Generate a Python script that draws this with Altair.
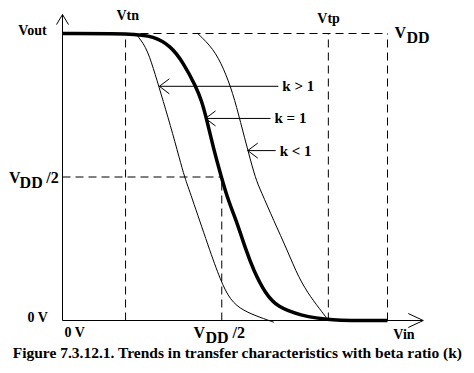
import altair as alt
import pandas as pd

# ---------------- data (volts) ----------------
VTN = 0.97      # nMOS threshold
VMID = 2.45     # VDD/2 marker on the Vin axis
VTP = 4.09      # pMOS threshold point
VDD = 5.0
VOUT_MID = 2.5
Y_AXIS_TOP = 5.33
X_AXIS_END = 5.55

# k = 1 (thick)
VIN_K_EQ1 = [0.0, 1.09, 1.40, 1.66, 1.86, 2.05, 2.14, 2.215, 2.32, 2.446, 2.55, 2.69, 2.815, 2.94, 3.12, 3.31, 3.66, 4.08, 5.0]
VOUT_K_EQ1 = [5.0, 5.0, 4.95, 4.79, 4.49, 4.08, 3.83, 3.52, 3.01, 2.49, 2.09, 1.69, 1.25, 0.87, 0.47, 0.23, 0.09, 0.0, 0.0]
# k > 1 (left)
VIN_K_GT1 = [1.12, 1.28, 1.40, 1.51, 1.66, 1.80, 1.88, 1.97, 2.25, 2.43, 2.58, 2.78, 3.05, 3.25]
VOUT_K_GT1 = [5.0, 4.79, 4.39, 3.97, 3.40, 2.82, 2.49, 2.21, 1.27, 0.70, 0.35, 0.17, 0.05, -0.03]
# k < 1 (right)
VIN_K_LT1 = [2.08, 2.32, 2.48, 2.62, 2.74, 2.86, 2.97, 3.05, 3.25, 3.46, 3.63, 3.82, 4.00, 4.09]
VOUT_K_LT1 = [5.0, 4.74, 4.39, 3.97, 3.45, 2.93, 2.47, 2.26, 1.74, 1.22, 0.75, 0.40, 0.14, 0.0]

# pointer arrows to the curves
ARROW_LABELS = ["k > 1", "k = 1", "k < 1"]
ARROW_TIP_VIN = [1.49, 2.20, 2.85]
ARROW_TAIL_VIN = [3.32, 3.20, 3.28]
ARROW_VOUT = [4.08, 3.52, 2.96]

# plain labels (14 px)
SMALL_TEXT = ["Vout", "Vtn", "Vtp", "0 V", "0 V", "Vin"]
SMALL_VIN = [-0.68, 0.83, 3.92, -0.54, 0.03, 5.09]
SMALL_VOUT = [5.05, 5.30, 5.26, 0.035, -0.226, -0.244]

# V_DD labels (16 px)
BIG_TEXT = ["V", "DD", "V", "DD", "/2", "V", "DD", "/2"]
BIG_VIN = [5.108, 5.292, -0.825, -0.66, -0.25, 2.015, 2.20, 2.615]
BIG_VOUT = [5.017, 4.93, 2.474, 2.387, 2.491, -0.215, -0.30, -0.215]

CAPTION = "Figure 7.3.12.1. Trends in transfer characteristics with beta ratio (k)"
CAPTION_VIN = 2.69
CAPTION_VOUT = -0.57

# ---------------- layout ----------------
W, H = 456, 354
PX_X, PX_Y = 65.0, 57.4          # pixels per volt
OX, OY = 54.5, 312.5             # where (0 V, 0 V) sits in the plot area
xs = alt.Scale(domain=[-OX / PX_X, (W - OX) / PX_X], nice=False, zero=False)
ys = alt.Scale(domain=[-(H - OY) / PX_Y, OY / PX_Y], nice=False, zero=False)
FONT = "Liberation Serif"

def X(f="x"):
    return alt.X(f"{f}:Q", scale=xs, axis=None)

def Y(f="y"):
    return alt.Y(f"{f}:Q", scale=ys, axis=None)

curves = pd.concat([
    pd.DataFrame({"x": VIN_K_EQ1, "y": VOUT_K_EQ1, "k": "eq", "o": range(len(VIN_K_EQ1))}),
    pd.DataFrame({"x": VIN_K_GT1, "y": VOUT_K_GT1, "k": "gt", "o": range(len(VIN_K_GT1))}),
    pd.DataFrame({"x": VIN_K_LT1, "y": VOUT_K_LT1, "k": "lt", "o": range(len(VIN_K_LT1))}),
])

guides = pd.DataFrame({
    "x": [0.0, 0.0, VTN, VMID, VTP, VDD],
    "x2": [VDD, VMID, VTN, VMID, VTP, VDD],
    "y": [VDD, VOUT_MID, 0.0, 0.0, 0.0, 0.0],
    "y2": [VDD, VOUT_MID, VDD, VOUT_MID, VDD, VDD],
})

seg = []
# axes
seg.append((0.0, 0.0, 0.0, Y_AXIS_TOP))
seg.append((0.0, 0.0, X_AXIS_END, 0.0))
# axis arrowheads
ax_dx, ax_dy = 6 / PX_X, 10 / PX_Y
seg.append((0.0, Y_AXIS_TOP, -ax_dx, Y_AXIS_TOP - ax_dy))
seg.append((0.0, Y_AXIS_TOP, ax_dx, Y_AXIS_TOP - ax_dy))
bx_dx, bx_dy = 15 / PX_X, 7 / PX_Y
seg.append((X_AXIS_END, 0.0, X_AXIS_END - bx_dx, bx_dy))
seg.append((X_AXIS_END, 0.0, X_AXIS_END - bx_dx, -bx_dy))
# pointer arrows
hw_dx, hw_dy = 10 / PX_X, 7.5 / PX_Y
for tip, tail, v in zip(ARROW_TIP_VIN, ARROW_TAIL_VIN, ARROW_VOUT):
    seg.append((tip, v, tail, v))
    seg.append((tip, v, tip + hw_dx, v + hw_dy))
    seg.append((tip, v, tip + hw_dx, v - hw_dy))
segs = pd.DataFrame(seg, columns=["x", "y", "x2", "y2"])

dashed = alt.Chart(guides).mark_rule(color="black", strokeWidth=1, strokeDash=[8, 5]).encode(
    x=X(), y=Y(), x2="x2:Q", y2="y2:Q")
solid = alt.Chart(segs).mark_rule(color="black", strokeWidth=1).encode(
    x=X(), y=Y(), x2="x2:Q", y2="y2:Q")

thin = alt.Chart(curves[curves.k != "eq"]).mark_line(
    color="black", strokeWidth=1, interpolate="basis").encode(
    x=X(), y=Y(), detail="k:N", order="o:Q")
thick = alt.Chart(curves[curves.k == "eq"]).mark_line(
    color="black", strokeWidth=3.5, interpolate="basis", strokeJoin="round").encode(
    x=X(), y=Y(), order="o:Q")

klab = alt.Chart(pd.DataFrame({"t": ARROW_LABELS, "x": ARROW_TAIL_VIN, "y": ARROW_VOUT})).mark_text(
    font=FONT, fontWeight="bold", fontSize=15, align="left", baseline="middle", dx=4, color="black"
).encode(x=X(), y=Y(), text="t:N")

small = alt.Chart(pd.DataFrame({"t": SMALL_TEXT, "x": SMALL_VIN, "y": SMALL_VOUT})).mark_text(
    font=FONT, fontWeight="bold", fontSize=14, align="left", baseline="middle", color="black"
).encode(x=X(), y=Y(), text="t:N")

big = alt.Chart(pd.DataFrame({"t": BIG_TEXT, "x": BIG_VIN, "y": BIG_VOUT})).mark_text(
    font=FONT, fontWeight="bold", fontSize=16, align="left", baseline="middle", color="black"
).encode(x=X(), y=Y(), text="t:N")

cap = alt.Chart(pd.DataFrame({"t": [CAPTION], "x": [CAPTION_VIN], "y": [CAPTION_VOUT]})).mark_text(
    font=FONT, fontWeight="bold", fontSize=15.5, align="center", baseline="middle", color="black"
).encode(x=X(), y=Y(), text="t:N")

chart = alt.layer(dashed, solid, thin, thick, klab, small, big, cap).properties(
    width=W, height=H, padding=0,
    autosize=alt.AutoSizeParams(type="none"),
    background="white",
).configure_view(stroke=None)

chart.save("out.html", embed_options={"renderer": "svg", "actions": False})
